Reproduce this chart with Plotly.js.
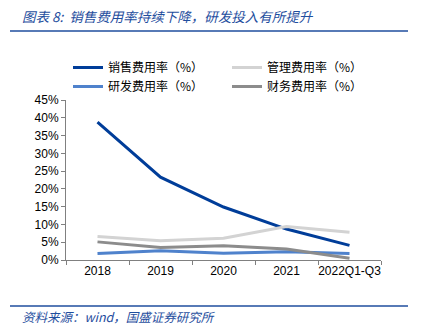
<!DOCTYPE html>
<html>
<head>
<meta charset="utf-8">
<script src="https://cdn.plot.ly/plotly-3.0.1.min.js"></script>
<style>html,body{margin:0;padding:0;background:#fff;}#chart{width:421px;height:335px;}</style>
</head>
<body>
<div id="chart"></div>
<script>
var categories = ["2018", "2019", "2020", "2021", "2022Q1-Q3"];
var salesRate = [38.8, 23.3, 14.9, 8.7, 4.1];
var mgmtRate = [6.6, 5.4, 6.1, 9.4, 7.8];
var rdRate = [1.8, 2.6, 1.9, 2.3, 1.8];
var finRate = [5.1, 3.5, 4.0, 3.1, 0.5];
var seriesNames = ["销售费用率（%）", "管理费用率（%）", "研发费用率（%）", "财务费用率（%）"];
var yTickVals = [0, 5, 10, 15, 20, 25, 30, 35, 40, 45];
var yTickText = ["0%", "5%", "10%", "15%", "20%", "25%", "30%", "35%", "40%", "45%"];

var L = 66, R = 381, T = 100, B = 260, W = 421, H = 335;
function px(x) { return (x - L) / (R - L); }
function py(y) { return (B - y) / (B - T); }

var blueText = "#1f4e9e";
var traces = [
  {x: categories, y: salesRate, name: seriesNames[0], mode: "lines", line: {color: "#003d99", width: 3}},
  {x: categories, y: mgmtRate, name: seriesNames[1], mode: "lines", line: {color: "#d3d3d3", width: 3}},
  {x: categories, y: rdRate, name: seriesNames[2], mode: "lines", line: {color: "#4f82cc", width: 3}},
  {x: categories, y: finRate, name: seriesNames[3], mode: "lines", line: {color: "#8c8c8c", width: 3}}
];

var layout = {
  width: W, height: H,
  margin: {l: L, r: W - R, t: T, b: H - B, pad: 0, autoexpand: false},
  paper_bgcolor: "#fff", plot_bgcolor: "#fff",
  font: {family: "Liberation Sans, Arial, sans-serif", size: 12, color: "#000"},
  showlegend: true,
  legend: {
    orientation: "h", xref: "container", yref: "container",
    x: 68 / W, xanchor: "left", y: 1 - 53 / H, yanchor: "top",
    entrywidth: 114, traceorder: "normal",
    font: {family: "Noto Sans CJK SC", size: 12, color: "#000"},
    bgcolor: "rgba(0,0,0,0)"
  },
  xaxis: {
    type: "category", range: [-0.5, 4.5], tickangle: 0,
    showline: true, linecolor: "#808080", linewidth: 1,
    ticks: "outside", tickson: "boundaries", ticklen: 4, tickcolor: "#808080",
    showgrid: false, zeroline: false,
    tickfont: {family: "Liberation Sans, Arial, sans-serif", size: 12, color: "#000"}
  },
  yaxis: {
    range: [0, 45], tickvals: yTickVals, ticktext: yTickText,
    showline: true, linecolor: "#808080", linewidth: 1,
    ticks: "outside", ticklen: 4, tickcolor: "#808080",
    showgrid: false, zeroline: false,
    tickfont: {family: "Liberation Sans, Arial, sans-serif", size: 12, color: "#000"}
  },
  shapes: [
    {type: "line", xref: "paper", yref: "paper", x0: px(10), x1: px(408), y0: py(31), y1: py(31), line: {color: "#1f4e9e", width: 1.5}},
    {type: "line", xref: "paper", yref: "paper", x0: px(10), x1: px(408), y0: py(306), y1: py(306), line: {color: "#1f4e9e", width: 1.5}}
  ],
  annotations: [
    {text: "<i>图表 8:  销售费用率持续下降，研发投入有所提升</i>", xref: "paper", yref: "paper", x: px(20), y: py(16), xanchor: "left", yanchor: "middle", showarrow: false,
     font: {family: "Noto Sans CJK SC", size: 13.5, color: blueText}},
    {text: "<i>资料来源：wind，国盛证券研究所</i>", xref: "paper", yref: "paper", x: px(20), y: py(316), xanchor: "left", yanchor: "middle", showarrow: false,
     font: {family: "Noto Sans CJK SC", size: 12.5, color: blueText}}
  ]
};

Plotly.newPlot("chart", traces, layout, {staticPlot: true, displayModeBar: false});
</script>
</body>
</html>
